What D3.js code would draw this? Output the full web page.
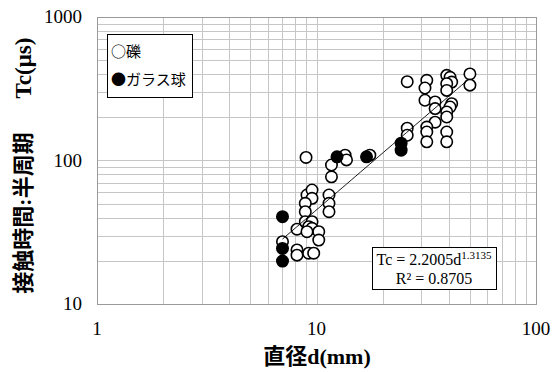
<!DOCTYPE html>
<html>
<head>
<meta charset="utf-8">
<script src="https://cdn.jsdelivr.net/npm/d3@7"></script>
<style>
  html, body { margin: 0; padding: 0; background: #fff; }
  svg { display: block; }
  .serif { font-family: "Liberation Serif", "Noto Sans CJK JP", serif; }
</style>
</head>
<body>
<div id="chart"></div>
<script>
// 礫 (open circles): diameter d (mm) and contact time Tc (us)
var gravelD = [8.96, 7.0, 8.15, 8.15, 8.15, 9.05, 9.54, 9.54, 8.89, 8.89,
               8.89, 9.54, 9.21, 9.54, 9.05, 10.24, 10.24, 9.21, 9.71, 11.4,
               11.4, 11.4, 13.5, 13.7, 11.7, 11.7, 17.5, 25.9, 25.9, 25.9,
               31.8, 31.2, 31.2, 34.7, 34.7, 34.7, 31.8, 31.8, 31.8, 39.2,
               40.6, 41.3, 39.2, 39.2, 41.3, 40.6, 39.2, 39.2, 39.2, 39.2,
               50.0, 50.0];
var gravelT = [105, 27.2, 33.2, 23.8, 21.9, 57.5, 62.3, 54.5, 50.3, 44.0,
               37.5, 37.5, 34.6, 33.7, 31.9, 31.9, 27.9, 22.6, 22.6, 57.5,
               50.3, 44.0, 109, 101, 93, 77, 109, 168, 150, 354,
               362, 320, 263, 256, 230, 185, 171, 158, 135, 392,
               380, 352, 343, 308, 249, 236, 218, 201, 158, 135,
               401, 335];
// ガラス球 (filled circles)
var glassD = [7.0, 7.0, 7.0, 12.4, 16.9, 24.3, 24.3];
var glassT = [40.6, 24.4, 19.9, 106, 106, 132, 118];

// power trendline Tc = a * d^b
var trendA = 2.2005, trendB = 1.3135;
var trendR2 = "0.8705";
var trendRange = [7.0, 48];

var xTicks = [1, 10, 100];
var yTicks = [10, 100, 1000];
var xTitle = "直径d(mm)";
var yTitleJa = "接触時間:半周期";
var yTitleSym = "Tc(μs)";
var legendLabels = ["○礫", "●ガラス球"];

(function () {
  var W = 554, H = 372;
  var pl = 97, pr = 536, pt = 17, pb = 304;

  var svg = d3.select("#chart").append("svg")
    .attr("width", W).attr("height", H);

  var x = d3.scaleLog().domain([1, 100]).range([pl, pr]);
  var y = d3.scaleLog().domain([10, 1000]).range([pb, pt]);

  // gridlines (major + minor)
  var grid = svg.append("g").attr("stroke", "#c6c6c6").attr("stroke-width", 1);
  grid.selectAll("line.v").data(x.ticks()).enter().append("line")
    .attr("x1", d => Math.round(x(d)) + 0.5).attr("x2", d => Math.round(x(d)) + 0.5)
    .attr("y1", pt).attr("y2", pb);
  grid.selectAll("line.h").data(y.ticks()).enter().append("line")
    .attr("y1", d => Math.round(y(d)) + 0.5).attr("y2", d => Math.round(y(d)) + 0.5)
    .attr("x1", pl).attr("x2", pr);

  svg.append("rect")
    .attr("x", pl + 0.5).attr("y", pt + 0.5)
    .attr("width", pr - pl).attr("height", pb - pt)
    .attr("fill", "none").attr("stroke", "#9a9a9a");

  // tick labels
  svg.append("g").selectAll("text").data(xTicks).enter().append("text")
    .attr("class", "serif")
    .attr("x", d => x(d)).attr("y", 335)
    .attr("text-anchor", "middle")
    .attr("font-size", 19)
    .text(d => d);
  svg.append("g").selectAll("text").data(yTicks).enter().append("text")
    .attr("class", "serif")
    .attr("x", 82).attr("y", d => y(d) + 6)
    .attr("text-anchor", "end")
    .attr("font-size", 19)
    .text(d => d);

  // axis titles
  svg.append("text")
    .attr("class", "serif")
    .attr("x", 317).attr("y", 364)
    .attr("text-anchor", "middle")
    .attr("font-size", 22).attr("font-weight", "bold")
    .text(xTitle);
  svg.append("text")
    .attr("class", "serif")
    .attr("transform", "translate(31,213) rotate(-90)")
    .attr("text-anchor", "middle")
    .attr("font-size", 22).attr("font-weight", "bold")
    .text(yTitleJa);
  svg.append("text")
    .attr("class", "serif")
    .attr("transform", "translate(31,68) rotate(-90)")
    .attr("text-anchor", "middle")
    .attr("font-size", 23).attr("font-weight", "bold")
    .text(yTitleSym);

  // markers
  var gravel = gravelD.map((d, i) => [d, gravelT[i]]);
  var glass = glassD.map((d, i) => [d, glassT[i]]);

  svg.append("g").selectAll("circle").data(gravel).enter().append("circle")
    .attr("cx", d => x(d[0])).attr("cy", d => y(d[1])).attr("r", 5.7)
    .attr("fill", "#fff").attr("stroke", "#000").attr("stroke-width", 1.6);
  svg.append("g").selectAll("circle").data(glass).enter().append("circle")
    .attr("cx", d => x(d[0])).attr("cy", d => y(d[1])).attr("r", 5.7)
    .attr("fill", "#000").attr("stroke", "#000").attr("stroke-width", 1.6);

  // trendline
  var trend = d3.range(0, 41).map(function (i) {
    var d = trendRange[0] * Math.pow(trendRange[1] / trendRange[0], i / 40);
    return [d, trendA * Math.pow(d, trendB)];
  });
  svg.append("path").datum(trend)
    .attr("fill", "none").attr("stroke", "#000").attr("stroke-width", 0.9)
    .attr("d", d3.line().x(d => x(d[0])).y(d => y(d[1])));

  // legend
  svg.append("rect")
    .attr("x", 107.5).attr("y", 34.5).attr("width", 85).attr("height", 63)
    .attr("fill", "#fff").attr("stroke", "#000");
  svg.append("g").selectAll("text").data(legendLabels).enter().append("text")
    .attr("x", 111).attr("y", (d, i) => 57 + i * 28)
    .attr("font-family", "'Noto Sans CJK JP'")
    .attr("font-size", 15)
    .text(d => d);

  // equation box
  svg.append("rect")
    .attr("x", 372.5).attr("y", 247.5).attr("width", 124).attr("height", 42)
    .attr("fill", "#fff").attr("stroke", "#000");
  var eq = svg.append("text")
    .attr("class", "serif")
    .attr("x", 434).attr("y", 265).attr("text-anchor", "middle")
    .attr("font-size", 16);
  eq.append("tspan").text("Tc = " + trendA.toFixed(4) + "d");
  eq.append("tspan").attr("dy", -6).attr("font-size", 11).text(trendB.toFixed(4));
  svg.append("text")
    .attr("class", "serif")
    .attr("x", 434).attr("y", 284).attr("text-anchor", "middle")
    .attr("font-size", 16)
    .text("R\u00b2 = " + trendR2);
})();
</script>
</body>
</html>
